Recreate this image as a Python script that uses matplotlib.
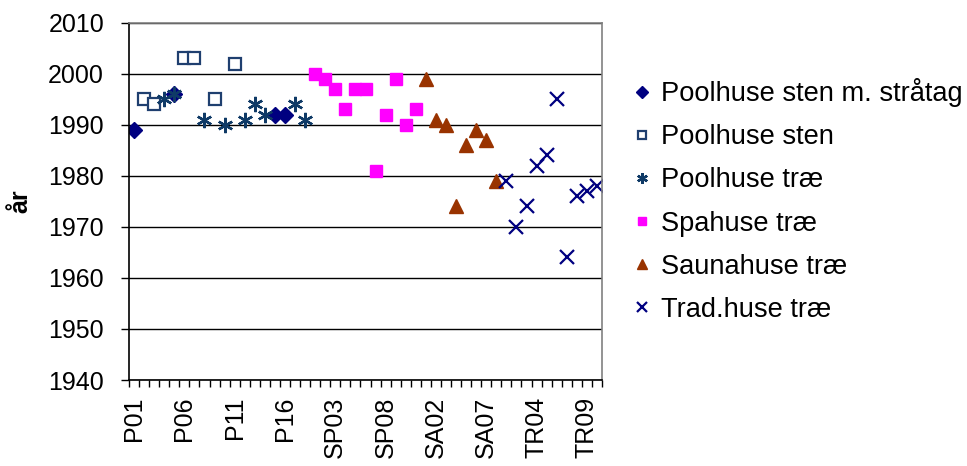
import matplotlib
matplotlib.use("Agg")
import matplotlib.pyplot as plt
from matplotlib.ticker import FixedLocator, NullFormatter

plt.rcParams["font.family"] = ["Liberation Sans", "DejaVu Sans"]

# Category axis: houses grouped by type
categories = ([f"P{i:02d}" for i in range(1, 19)]
              + [f"SP{i:02d}" for i in range(1, 12)]
              + [f"SA{i:02d}" for i in range(1, 9)]
              + [f"TR{i:02d}" for i in range(1, 11)])

# Building year per house, per series
straatag_cats = ["P01", "P05", "P15", "P16"]
straatag_years = [1989, 1996, 1992, 1992]

pool_sten_cats = ["P02", "P03", "P06", "P07", "P09", "P11"]
pool_sten_years = [1995, 1994, 2003, 2003, 1995, 2002]

pool_trae_cats = ["P04", "P05", "P08", "P10", "P12", "P13", "P14", "P17", "P18"]
pool_trae_years = [1995, 1996, 1991, 1990, 1991, 1994, 1992, 1994, 1991]

spa_cats = ["SP01", "SP02", "SP03", "SP04", "SP05", "SP06", "SP07", "SP08", "SP09", "SP10", "SP11"]
spa_years = [2000, 1999, 1997, 1993, 1997, 1997, 1981, 1992, 1999, 1990, 1993]

sauna_cats = ["SA01", "SA02", "SA03", "SA04", "SA05", "SA06", "SA07", "SA08"]
sauna_years = [1999, 1991, 1990, 1974, 1986, 1989, 1987, 1979]

trad_cats = ["TR01", "TR02", "TR03", "TR04", "TR05", "TR06", "TR07", "TR08", "TR09", "TR10"]
trad_years = [1979, 1970, 1974, 1982, 1984, 1995, 1964, 1976, 1977, 1978]

tick_every = 5


def positions(cats):
    return [categories.index(c) for c in cats]


fig = plt.figure(figsize=(9.67, 4.66), dpi=100)
ax = fig.add_axes([129 / 967, 1 - 380 / 466, (602 - 129) / 967, (380 - 22.7) / 466])

ax.plot(positions(straatag_cats), straatag_years, linestyle="none", marker="D",
        markersize=8.5, color="#000080", label="Poolhuse sten m. stråtag")
ax.plot(positions(pool_sten_cats), pool_sten_years, linestyle="none", marker="s",
        markersize=8, markerfacecolor="white", markeredgecolor="#1F3F6F",
        markeredgewidth=1.6, label="Poolhuse sten")
ax.plot(positions(pool_trae_cats), pool_trae_years, linestyle="none", marker=(6, 2, 0),
        markersize=11, color="#0F3A66", markeredgewidth=1.7, label="Poolhuse træ")
ax.plot(positions(spa_cats), spa_years, linestyle="none", marker="s",
        markersize=8.5, color="#FF00FF", label="Spahuse træ")
ax.plot(positions(sauna_cats), sauna_years, linestyle="none", marker="^",
        markersize=10, color="#993300", label="Saunahuse træ")
ax.plot(positions(trad_cats), trad_years, linestyle="none", marker="x",
        markersize=10, color="#000080", markeredgewidth=1.6, label="Trad.huse træ")

# y axis
ax.set_ylim(1940, 2010)
ax.set_yticks(range(1940, 2011, 10))
ax.yaxis.grid(True, color="black", linewidth=1)
ax.set_axisbelow(True)
ax.set_ylabel("år", fontsize=18, fontweight="bold")
ax.yaxis.set_label_coords(-0.205, 0.5)
ax.tick_params(axis="y", direction="out", length=6, width=1, labelsize=18, pad=12)

# x axis: ticks between categories, labels every fifth category
n = len(categories)
ax.set_xlim(-0.5, n - 0.5)
label_idx = list(range(0, n, tick_every))
ax.set_xticks(label_idx)
ax.set_xticklabels([categories[i] for i in label_idx], rotation=90, fontsize=18)
ax.tick_params(axis="x", which="major", length=0, pad=12)
ax.xaxis.set_minor_locator(FixedLocator([i - 0.5 for i in range(n + 1)]))
ax.xaxis.set_minor_formatter(NullFormatter())
ax.tick_params(axis="x", which="minor", direction="out", length=5, width=1)

for side in ["top", "right"]:
    ax.spines[side].set_color("#808080")
    ax.spines[side].set_linewidth(1.2)
for side in ["left", "bottom"]:
    ax.spines[side].set_color("black")
    ax.spines[side].set_linewidth(1.2)

fig.legend(loc="center left", bbox_to_anchor=(620 / 967, 1 - 200.5 / 466),
           frameon=False, fontsize=19.6, markerscale=0.7, handlelength=0.8,
           handletextpad=0.3, labelspacing=0.63, borderaxespad=0)

fig.savefig("out.png", dpi=100)
